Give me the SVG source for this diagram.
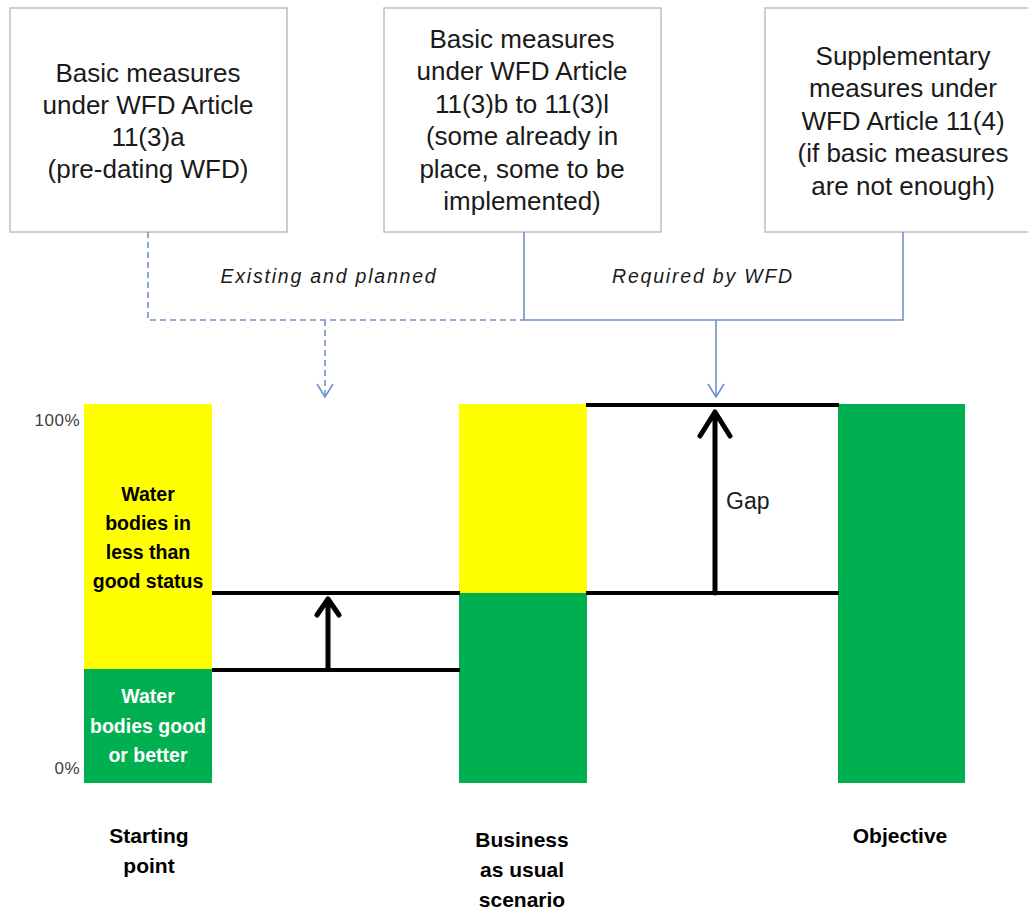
<svg xmlns="http://www.w3.org/2000/svg" width="1028" height="912" viewBox="0 0 1028 912">
<style>
.box{fill:#fff;stroke:#bfbfbf;stroke-width:1.5}
.bt{font-family:"Liberation Sans",Arial,sans-serif;font-size:26px;fill:#1a1a1a;text-anchor:middle}
.it{font-family:"Liberation Sans",Arial,sans-serif;font-size:19.5px;font-style:italic;fill:#1a1a1a;text-anchor:middle;letter-spacing:1.8px}
.conn{fill:none;stroke:#6f93c9;stroke-width:1.6}
.dash{stroke-dasharray:6 4}
.blk{fill:none;stroke:#000;stroke-width:4}
.arr{fill:none;stroke:#000;stroke-width:5;stroke-linecap:round;stroke-linejoin:round}
.lbl{font-family:"Liberation Sans",Arial,sans-serif;font-size:19.5px;font-weight:bold;text-anchor:middle}
.cap{font-size:21px}
.pct{font-family:"Liberation Sans",Arial,sans-serif;font-size:17px;fill:#404040;text-anchor:end;letter-spacing:0.5px}
.yel{fill:#ffff00}
.grn{fill:#00b050}
</style>
<rect width="1028" height="912" fill="#fff"/>
<g id="box1">
<rect class="box" x="10" y="8" width="277" height="224"/>
<text class="bt" x="148" y="82">Basic measures</text>
<text class="bt" x="148" y="114">under WFD Article</text>
<text class="bt" x="148" y="146">11(3)a</text>
<text class="bt" x="148" y="178">(pre-dating WFD)</text>
</g>
<g id="box2">
<rect class="box" x="384" y="8" width="277" height="224"/>
<text class="bt" x="522" y="48">Basic measures</text>
<text class="bt" x="522" y="80">under WFD Article</text>
<text class="bt" x="522" y="113">11(3)b to 11(3)l</text>
<text class="bt" x="522" y="145">(some already in</text>
<text class="bt" x="522" y="178">place, some to be</text>
<text class="bt" x="522" y="210">implemented)</text>
</g>
<g id="box3">
<rect class="box" x="765" y="8" width="277" height="224"/>
<text class="bt" x="903" y="65">Supplementary</text>
<text class="bt" x="903" y="97">measures under</text>
<text class="bt" x="903" y="130">WFD Article 11(4)</text>
<text class="bt" x="903" y="162">(if basic measures</text>
<text class="bt" x="903" y="195">are not enough)</text>
</g>
<g id="connectors">
<path class="conn dash" d="M148 232 V320 H524"/>
<path class="conn dash" d="M325 320 V396"/>
<path class="conn" d="M317 384 L325 397 L333 384"/>
<path class="conn" d="M524 232 V320 H903 V232"/>
<path class="conn" d="M716 320 V396"/>
<path class="conn" d="M708 384 L716 397 L724 384"/>
<text class="it" x="329" y="283">Existing and planned</text>
<text class="it" x="703" y="283">Required by WFD</text>
</g>
<g id="axis">
<text class="pct" x="80" y="426">100%</text>
<text class="pct" x="80" y="774">0%</text>
</g>
<g id="starting">
<rect class="yel" x="84" y="404" width="128" height="265"/>
<rect class="grn" x="84" y="669" width="128" height="114"/>
<text class="lbl" x="148" y="501" fill="#000">Water</text>
<text class="lbl" x="148" y="530" fill="#000">bodies in</text>
<text class="lbl" x="148" y="559" fill="#000">less than</text>
<text class="lbl" x="148" y="588" fill="#000">good status</text>
<text class="lbl" x="148" y="703" fill="#fff">Water</text>
<text class="lbl" x="148" y="733" fill="#fff">bodies good</text>
<text class="lbl" x="148" y="762" fill="#fff">or better</text>
<text class="lbl cap" x="149" y="843" fill="#000">Starting</text>
<text class="lbl cap" x="149" y="873" fill="#000">point</text>
</g>
<g id="bau">
<rect class="yel" x="459" y="404" width="128" height="189"/>
<rect class="grn" x="459" y="593" width="128" height="190"/>
<text class="lbl cap" x="522" y="847" fill="#000">Business</text>
<text class="lbl cap" x="522" y="877" fill="#000">as usual</text>
<text class="lbl cap" x="522" y="907" fill="#000">scenario</text>
</g>
<g id="objective">
<rect class="grn" x="838" y="404" width="127" height="379"/>
<text class="lbl cap" x="900" y="843" fill="#000">Objective</text>
</g>
<g id="levels">
<path class="blk" d="M212 593 H460 M212 670 H460 M586 405 H839 M586 593 H839"/>
<path class="arr" d="M328 668 V599 M317 615 L328 599 L339 615"/>
<path class="arr" d="M715 593 V412 M700 436 L715 412 L730 436"/>
<text x="726" y="509" font-family="Liberation Sans, Arial, sans-serif" font-size="23" fill="#1a1a1a">Gap</text>
</g>
</svg>
